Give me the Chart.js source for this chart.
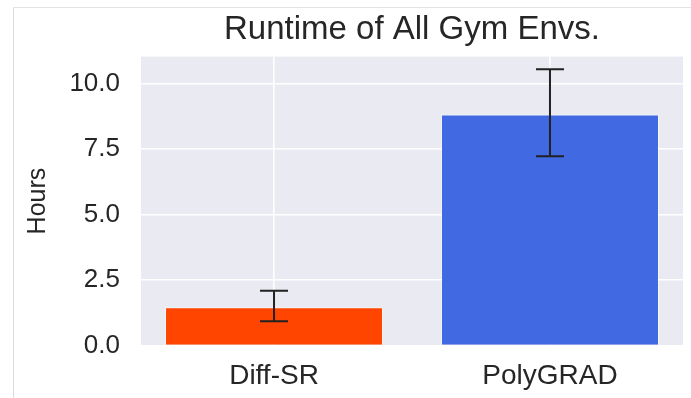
<!DOCTYPE html>
<html>
<head>
<meta charset="utf-8">
<script src="https://cdn.jsdelivr.net/npm/chart.js@4.4.1/dist/chart.umd.min.js"></script>
<style>
  html, body { margin: 0; padding: 0; background: #fff; }
  #wrap { position: relative; width: 691px; height: 398px; }
  #frame { position: absolute; left: 13px; top: 7px; right: 0; bottom: 0;
           border-left: 1px solid #dcdcdc; border-top: 1px solid #e2e2e2; pointer-events: none; }
</style>
</head>
<body>
<div id="wrap">
  <canvas id="runtimeChart" width="691" height="398"></canvas>
  <div id="frame"></div>
</div>
<script>
// Data
const categories = ['Diff-SR', 'PolyGRAD'];
const meanHours = [1.46, 8.83];
const errLow = [0.93, 7.23];
const errHigh = [2.09, 10.56];
const barColors = ['#FF4500', '#4169E1'];
const yTicks = [0, 2.5, 5, 7.5, 10];

const FONT = "'Liberation Sans', Arial, sans-serif";
const TEXT = '#262626';

// Draw the error bars on top of the bars
const errorBars = {
    id: 'errorBars',
    afterDatasetsDraw(chart) {
        const { ctx, scales: { y } } = chart;
        const meta = chart.getDatasetMeta(0);
        ctx.save();
        ctx.strokeStyle = '#222';
        ctx.lineWidth = 2;
        meta.data.forEach((bar, i) => {
            const top = y.getPixelForValue(errHigh[i]);
            const bottom = y.getPixelForValue(errLow[i]);
            const cap = 14;
            ctx.beginPath();
            ctx.moveTo(bar.x, top);
            ctx.lineTo(bar.x, bottom);
            ctx.moveTo(bar.x - cap, top);
            ctx.lineTo(bar.x + cap, top);
            ctx.moveTo(bar.x - cap, bottom);
            ctx.lineTo(bar.x + cap, bottom);
            ctx.stroke();
        });
        ctx.restore();
    }
};

// seaborn-ish plot background
const plotBackground = {
    id: 'plotBackground',
    beforeDraw(chart) {
        const { ctx, chartArea: a } = chart;
        ctx.save();
        ctx.fillStyle = '#EAEAF2';
        ctx.fillRect(a.left, a.top, a.right - a.left, a.bottom - a.top);
        ctx.restore();
    }
};

new Chart(document.getElementById('runtimeChart'), {
    type: 'bar',
    data: {
        datasets: [{
            data: categories.map((c, i) => ({ x: i, y: meanHours[i] })),
            backgroundColor: barColors,
            borderColor: 'rgba(255,255,255,0.6)',
            borderWidth: 1,
            barPercentage: 0.79,
            categoryPercentage: 1
        }]
    },
    options: {
        responsive: false,
        animation: false,
        layout: { padding: { left: 18, right: 8, top: 0, bottom: 0 } },
        plugins: {
            legend: { display: false },
            tooltip: { enabled: false },
            title: {
                display: true,
                text: 'Runtime of All Gym Envs.',
                fullSize: false,
                color: TEXT,
                font: { family: FONT, size: 33, weight: 'normal' },
                padding: { top: 10, bottom: 7 }
            }
        },
        scales: {
            x: {
                type: 'linear',
                offset: false,
                min: -0.482,
                max: 1.482,
                afterBuildTicks: axis => { axis.ticks = categories.map((c, i) => ({ value: i })); },
                afterFit: axis => { axis.height = 52.5; },
                grid: { color: '#ffffff', lineWidth: 1.6, drawTicks: false, offset: false },
                border: { display: false },
                ticks: {
                    color: TEXT,
                    padding: 14,
                    font: { family: FONT, size: 28 },
                    callback: value => categories[value]
                }
            },
            y: {
                min: 0,
                max: 11.04,
                afterBuildTicks: axis => { axis.ticks = yTicks.map(value => ({ value })); },
                afterFit: axis => { axis.width = 123; },
                grid: { color: '#ffffff', lineWidth: 1.6, drawTicks: false },
                border: { display: false },
                ticks: {
                    color: TEXT,
                    padding: 21,
                    font: { family: FONT, size: 26 },
                    callback: value => value.toFixed(1)
                },
                title: {
                    display: true,
                    text: 'Hours',
                    color: TEXT,
                    font: { family: FONT, size: 25 },
                    padding: { top: 5, bottom: 0 }
                }
            }
        }
    },
    plugins: [plotBackground, errorBars]
});
</script>
</body>
</html>
